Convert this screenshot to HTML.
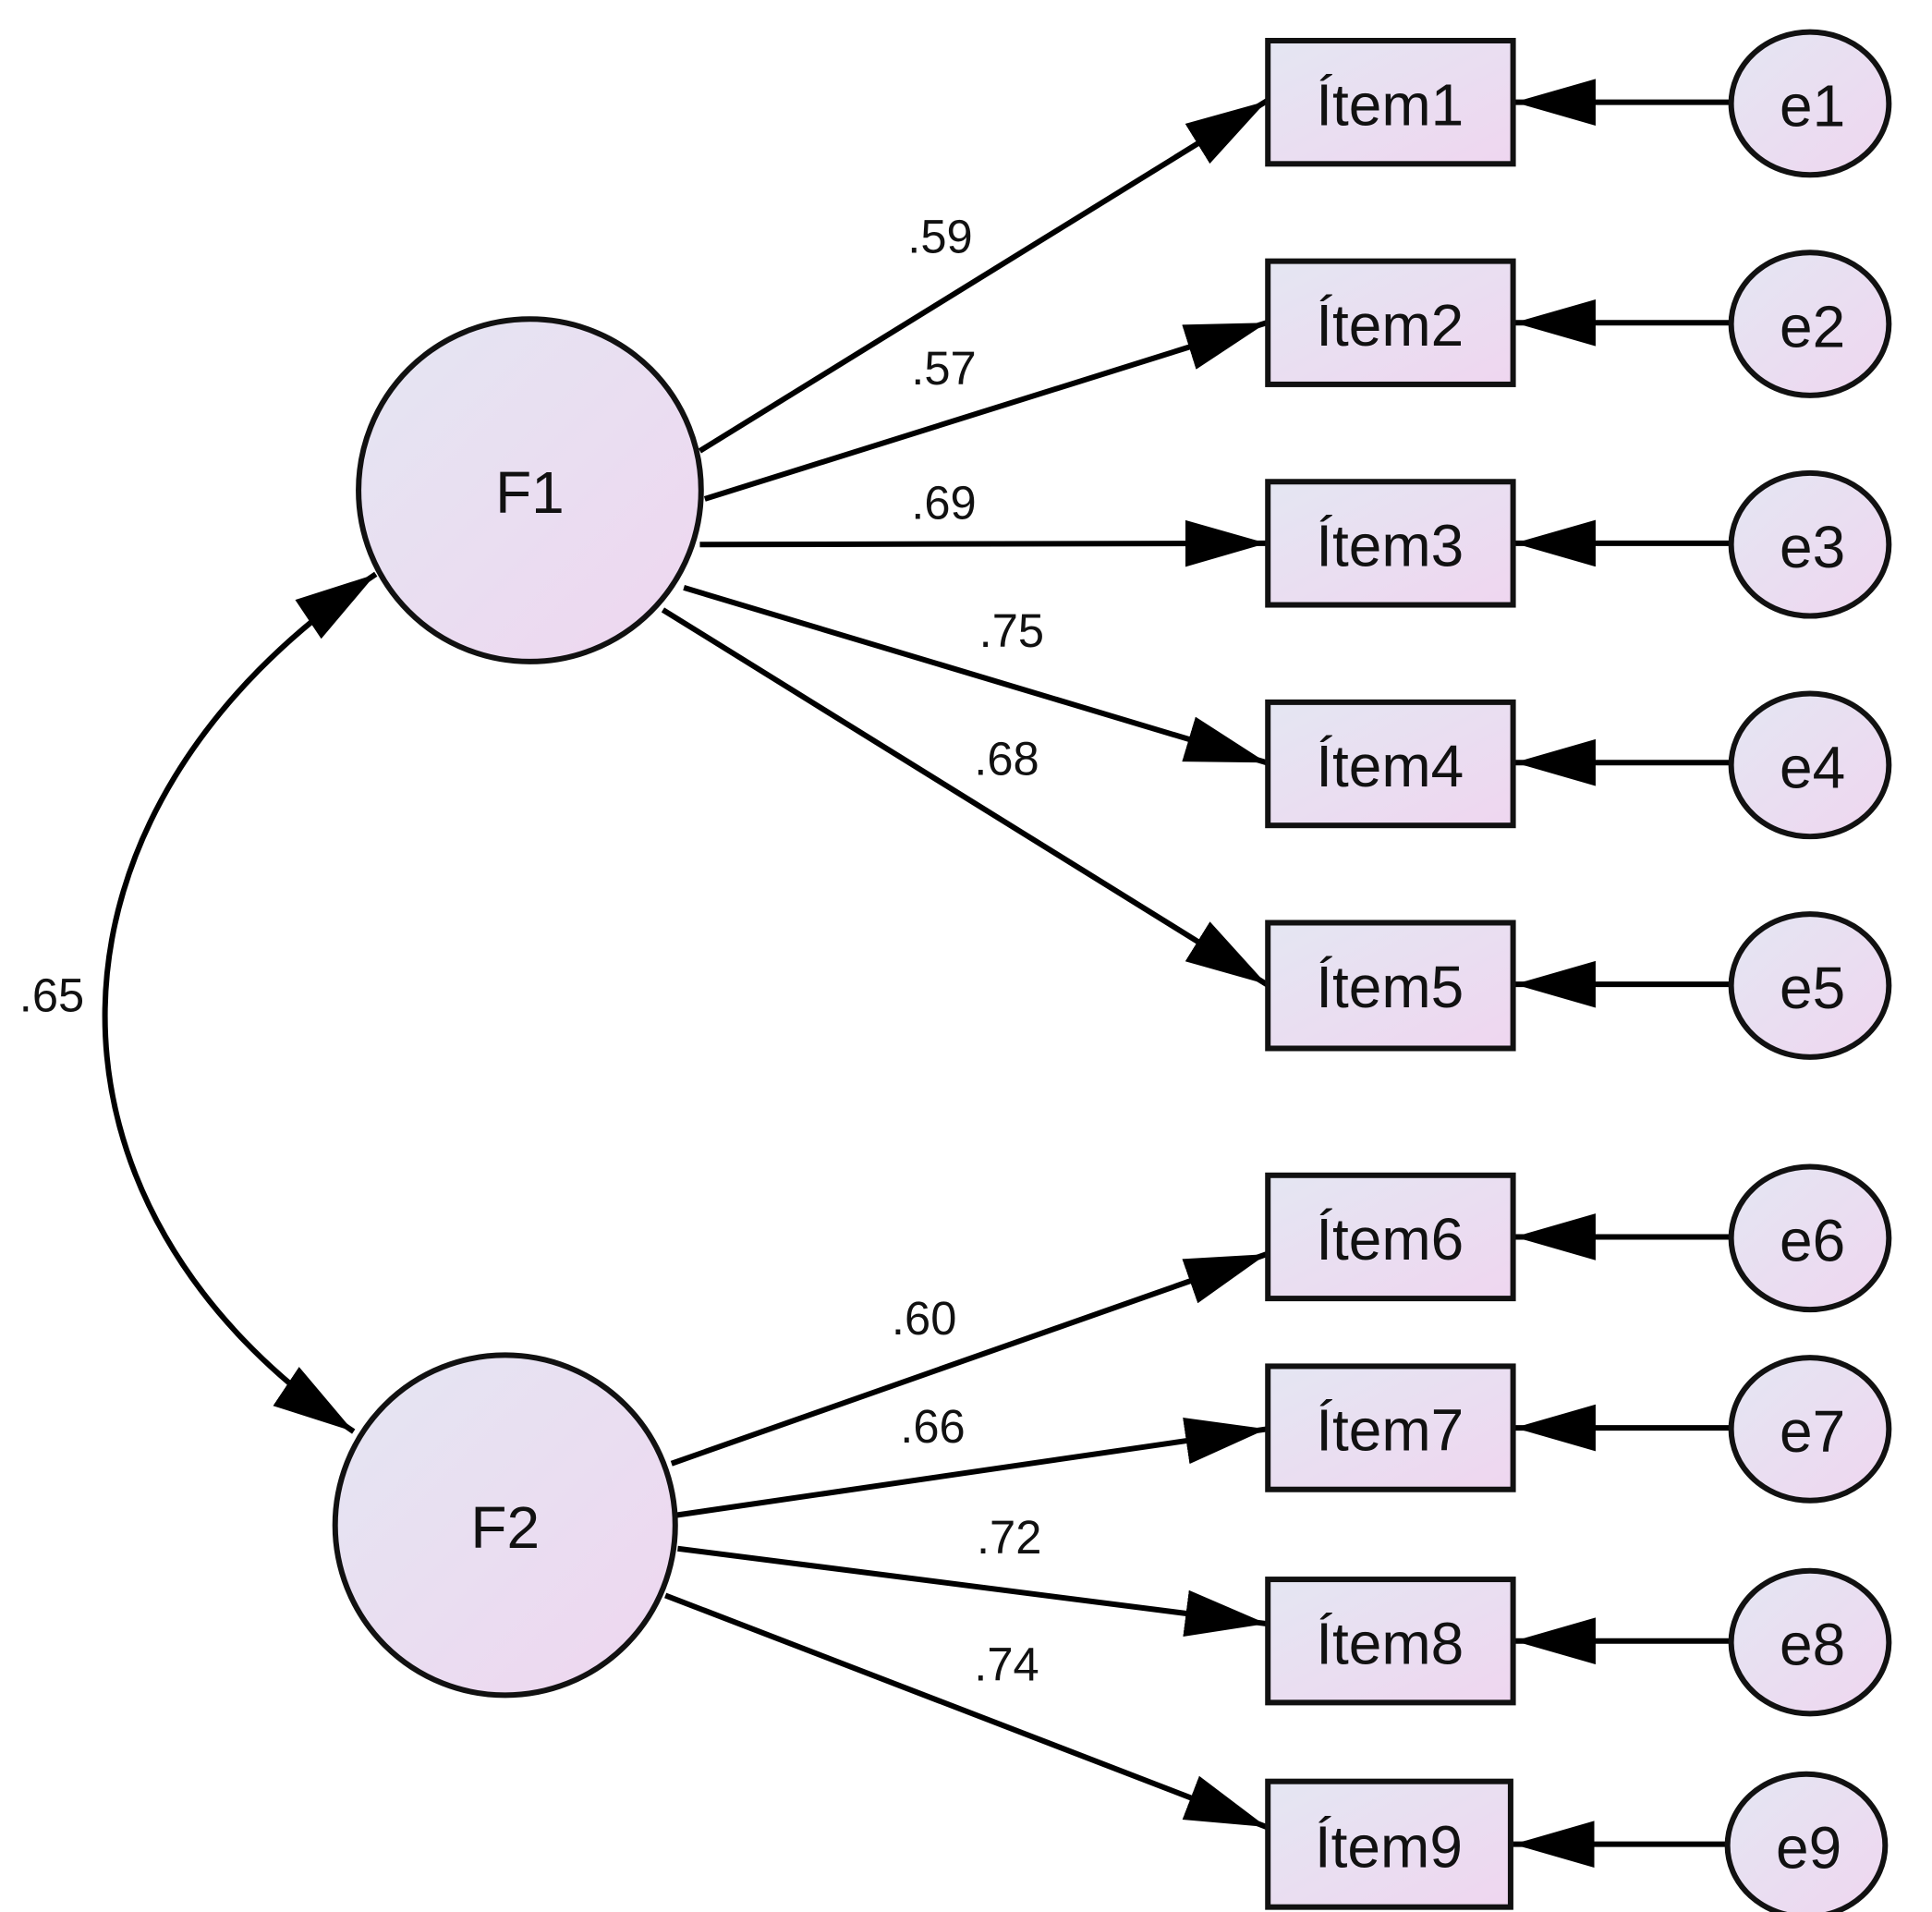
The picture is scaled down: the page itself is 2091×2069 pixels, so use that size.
<!DOCTYPE html>
<html><head><meta charset="utf-8"><style>
html,body{margin:0;padding:0;background:#fff;}
svg{display:block;}
text{font-family:"Liberation Sans",Arial,sans-serif;fill:#111;}
</style></head><body>
<svg width="2091" height="2069" viewBox="0 0 1568 1552" preserveAspectRatio="none" xmlns="http://www.w3.org/2000/svg">
<defs>
<linearGradient id="g" x1="0" y1="0" x2="1" y2="1">
<stop offset="0" stop-color="#e4e6f2"/><stop offset="1" stop-color="#efd6f0"/>
</linearGradient>
<marker id="a" markerUnits="userSpaceOnUse" markerWidth="70" markerHeight="42" refX="66" refY="19" orient="auto">
<polygon points="0,0 66,19 0,38" fill="#000"/>
</marker>
<marker id="as" markerUnits="userSpaceOnUse" markerWidth="70" markerHeight="42" refX="0" refY="19" orient="auto">
<polygon points="66,0 0,19 66,38" fill="#000"/>
</marker>
</defs>
<g stroke="#000" stroke-width="4.5" fill="none">
<path d="M305,466 C15,660 15,980 287,1162" marker-start="url(#as)" marker-end="url(#a)"/>
<line x1="568" y1="366" x2="1028" y2="82" marker-end="url(#a)"/>
<line x1="572" y1="405" x2="1028" y2="262" marker-end="url(#a)"/>
<line x1="568" y1="442" x2="1028" y2="441" marker-end="url(#a)"/>
<line x1="555" y1="477" x2="1028" y2="619" marker-end="url(#a)"/>
<line x1="538" y1="495" x2="1028" y2="799" marker-end="url(#a)"/>
<line x1="545" y1="1188" x2="1028" y2="1018" marker-end="url(#a)"/>
<line x1="548" y1="1230" x2="1028" y2="1160" marker-end="url(#a)"/>
<line x1="550" y1="1257" x2="1028" y2="1318" marker-end="url(#a)"/>
<line x1="540" y1="1295" x2="1028" y2="1483" marker-end="url(#a)"/>
<line x1="1405" y1="83" x2="1229" y2="83" marker-end="url(#a)"/>
<line x1="1405" y1="262" x2="1229" y2="262" marker-end="url(#a)"/>
<line x1="1405" y1="441" x2="1229" y2="441" marker-end="url(#a)"/>
<line x1="1405" y1="619" x2="1229" y2="619" marker-end="url(#a)"/>
<line x1="1405" y1="799" x2="1229" y2="799" marker-end="url(#a)"/>
<line x1="1405" y1="1004" x2="1229" y2="1004" marker-end="url(#a)"/>
<line x1="1405" y1="1159" x2="1229" y2="1159" marker-end="url(#a)"/>
<line x1="1405" y1="1332" x2="1229" y2="1332" marker-end="url(#a)"/>
<line x1="1400" y1="1497" x2="1228" y2="1497" marker-end="url(#a)"/>
</g>
<g stroke="#111" stroke-width="4.5" fill="url(#g)">
<circle cx="430" cy="398" r="139"/>
<circle cx="410" cy="1238" r="138"/>
<rect x="1029" y="33" width="199" height="100"/>
<rect x="1029" y="212" width="199" height="100"/>
<rect x="1029" y="391" width="199" height="100"/>
<rect x="1029" y="570" width="199" height="100"/>
<rect x="1029" y="749" width="199" height="102"/>
<rect x="1029" y="954" width="199" height="100"/>
<rect x="1029" y="1109" width="199" height="100"/>
<rect x="1029" y="1282" width="199" height="100"/>
<rect x="1029" y="1446" width="197" height="102"/>
<ellipse cx="1469" cy="84" rx="64" ry="58"/>
<ellipse cx="1469" cy="263" rx="64" ry="58"/>
<ellipse cx="1469" cy="442" rx="64" ry="58"/>
<ellipse cx="1469" cy="621" rx="64" ry="58"/>
<ellipse cx="1469" cy="800" rx="64" ry="58"/>
<ellipse cx="1469" cy="1005" rx="64" ry="58"/>
<ellipse cx="1469" cy="1160" rx="64" ry="58"/>
<ellipse cx="1469" cy="1333" rx="64" ry="58"/>
<ellipse cx="1466" cy="1498" rx="64" ry="58"/>
</g>
<g font-size="48" text-anchor="middle" dominant-baseline="central">
<text x="430" y="400">F1</text>
<text x="410" y="1240">F2</text>
<text x="1128" y="85">Ítem1</text>
<text x="1128" y="264">Ítem2</text>
<text x="1128" y="443">Ítem3</text>
<text x="1128" y="622">Ítem4</text>
<text x="1128" y="801">Ítem5</text>
<text x="1128" y="1006">Ítem6</text>
<text x="1128" y="1161">Ítem7</text>
<text x="1128" y="1334">Ítem8</text>
<text x="1127" y="1499">Ítem9</text>
<text x="1471" y="86">e1</text>
<text x="1471" y="265">e2</text>
<text x="1471" y="444">e3</text>
<text x="1471" y="623">e4</text>
<text x="1471" y="802">e5</text>
<text x="1471" y="1007">e6</text>
<text x="1471" y="1162">e7</text>
<text x="1471" y="1335">e8</text>
<text x="1468" y="1500">e9</text>
</g>
<g font-size="38" text-anchor="middle" dominant-baseline="central">
<text x="763" y="192">.59</text>
<text x="766" y="299">.57</text>
<text x="766" y="408">.69</text>
<text x="821" y="512">.75</text>
<text x="817" y="616">.68</text>
<text x="42" y="808">.65</text>
<text x="750" y="1070">.60</text>
<text x="757" y="1158">.66</text>
<text x="819" y="1248">.72</text>
<text x="817" y="1351">.74</text>
</g>
</svg>
</body></html>
